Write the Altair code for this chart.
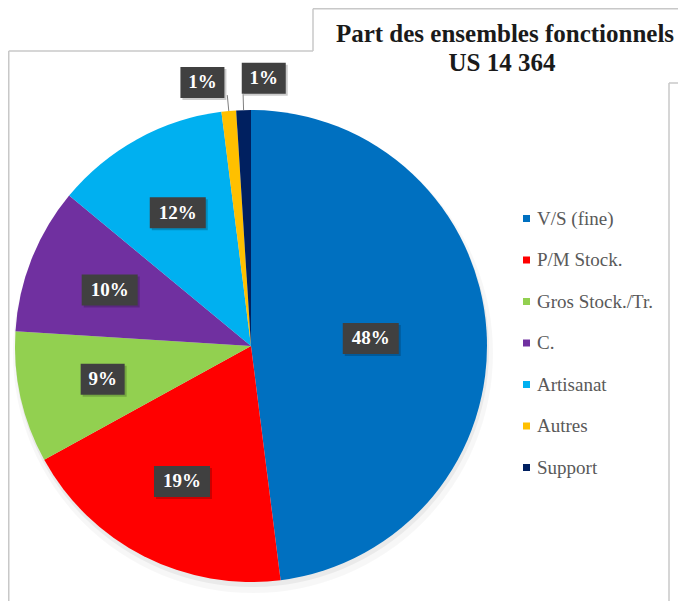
import altair as alt
import pandas as pd

# ---- data ----
categories = ["V/S (fine)", "P/M Stock.", "Gros Stock./Tr.", "C.", "Artisanat", "Autres", "Support"]
values = [48, 19, 9, 10, 12, 1, 1]
colors = ["#0070C0", "#FF0000", "#92D050", "#7030A0", "#00B0F0", "#FFC000", "#002060"]
title_lines = ["Part des ensembles fonctionnels", "US 14 364"]

df = pd.DataFrame({"cat": categories, "value": values, "idx": list(range(len(categories)))})

# ---- geometry ----
CX, CY, R = 243, 338, 236
W, H = 670, 593
SERIF = "Liberation Serif"

base = (
    alt.Chart(df)
    .transform_joinaggregate(total="sum(value)")
    .transform_window(cum="sum(value)", sort=[alt.SortField("idx")], frame=[None, 0])
    .transform_calculate(
        mid="(datum.cum - datum.value/2) / datum.total * 2 * PI",
        small="datum.value < 3",
    )
    .transform_calculate(
        la="datum.small ? datum.mid + (datum.idx % 2 == 1 ? -0.088 : 0.079) : datum.mid",
        lr="datum.value >= 30 ? 120 : (datum.small ? 268 : 152)",
        lab="format(datum.value, 'd') + '%'",
    )
    .transform_calculate(
        lx=f"{CX} + datum.lr * sin(datum.la)",
        ly=f"{CY} - datum.lr * cos(datum.la)",
        bw="12 * length(datum.lab) + 20",
        ex=f"{CX} + {R} * sin(datum.mid)",
        ey=f"{CY} - {R} * cos(datum.mid)",
        ox=f"{CX} + 252 * sin(datum.mid)",
        oy=f"{CY} - 252 * cos(datum.mid)",
    )
    .transform_calculate(
        bx="datum.lx - datum.bw/2",
        bx2="datum.lx + datum.bw/2",
        by="datum.ly - 15.5",
        by2="datum.ly + 15.5",
    )
)

one = pd.DataFrame({"k": [0]})

# soft shadow under the pie
shadow1 = alt.Chart(one).mark_arc(radius=R + 4, theta=0, theta2=6.2832, color="#000000", opacity=0.03).encode(
    x=alt.value(CX + 2), y=alt.value(CY + 7))
shadow2 = alt.Chart(one).mark_arc(radius=R + 1, theta=0, theta2=6.2832, color="#000000", opacity=0.05).encode(
    x=alt.value(CX + 1), y=alt.value(CY + 4))

pie = base.mark_arc(radius=R).encode(
    theta=alt.Theta("value:Q", stack=True),
    order=alt.Order("idx:Q"),
    color=alt.Color(
        "cat:N",
        sort=categories,
        scale=alt.Scale(domain=categories, range=colors),
        legend=alt.Legend(
            orient="none", legendX=509, legendY=201, title=None, padding=0,
            symbolType="square", symbolSize=49, symbolStrokeWidth=0,
            labelFont=SERIF, labelFontSize=19, labelColor="#595959",
            rowPadding=21.5, labelOffset=1, labelLimit=200,
        ),
    ),
    x=alt.value(CX), y=alt.value(CY),
)

leaders = base.transform_filter("datum.small").mark_rule(color="#7f7f7f", strokeWidth=1).encode(
    x=alt.X("ex:Q", scale=None, axis=None), y=alt.Y("ey:Q", scale=None, axis=None),
    x2="ox:Q", y2="oy:Q",
)

box_shadow = base.mark_rect(color="#000000", opacity=0.2).transform_calculate(
    sx="datum.bx + 2", sx2="datum.bx2 + 2", sy="datum.by + 2", sy2="datum.by2 + 2"
).encode(
    x=alt.X("sx:Q", scale=None, axis=None), x2="sx2:Q",
    y=alt.Y("sy:Q", scale=None, axis=None), y2="sy2:Q",
)

boxes = base.mark_rect(color="#404040").encode(
    x=alt.X("bx:Q", scale=None, axis=None), x2="bx2:Q",
    y=alt.Y("by:Q", scale=None, axis=None), y2="by2:Q",
)

labels = base.mark_text(font=SERIF, fontWeight="bold", fontSize=19, color="white",
                        baseline="middle", align="center").encode(
    x=alt.X("lx:Q", scale=None, axis=None), y=alt.Y("ly:Q", scale=None, axis=None),
    text="lab:N",
)

title1 = alt.Chart(one).mark_text(text=title_lines[0], font=SERIF, fontWeight="bold", fontSize=25,
                                  color="#1a1a1a", align="center", baseline="alphabetic").encode(
    x=alt.value(497), y=alt.value(34))
title2 = alt.Chart(one).mark_text(text=title_lines[1], font=SERIF, fontWeight="bold", fontSize=25,
                                  color="#1a1a1a", align="center", baseline="alphabetic").encode(
    x=alt.value(494), y=alt.value(63))


def seg(x1, y1, x2, y2):
    return alt.Chart(one).mark_rule(color="#c8c8c8", strokeWidth=1.5).encode(
        x=alt.value(x1), y=alt.value(y1), x2=alt.value(x2), y2=alt.value(y2))


frame = [
    seg(0.75, 43, 0.75, H),
    seg(0.75, 43, 305, 43),
    seg(305, 0.75, 305, 43),
    seg(305, 0.75, W, 0.75),
    seg(661, 75, 661, H),
    seg(661, 75, W, 75),
]

chart = alt.layer(
    *frame, shadow1, shadow2, pie, leaders, box_shadow, boxes, labels, title1, title2
).properties(
    width=W, height=H, padding=0,
    autosize=alt.AutoSizeParams(type="fit", contains="padding"),
    background="white",
).configure_view(stroke=None).configure_legend(
    labelFont=SERIF, labelFontSize=19, labelColor="#595959"
)

chart.save("out.html", embed_options={"renderer": "svg", "actions": False})
